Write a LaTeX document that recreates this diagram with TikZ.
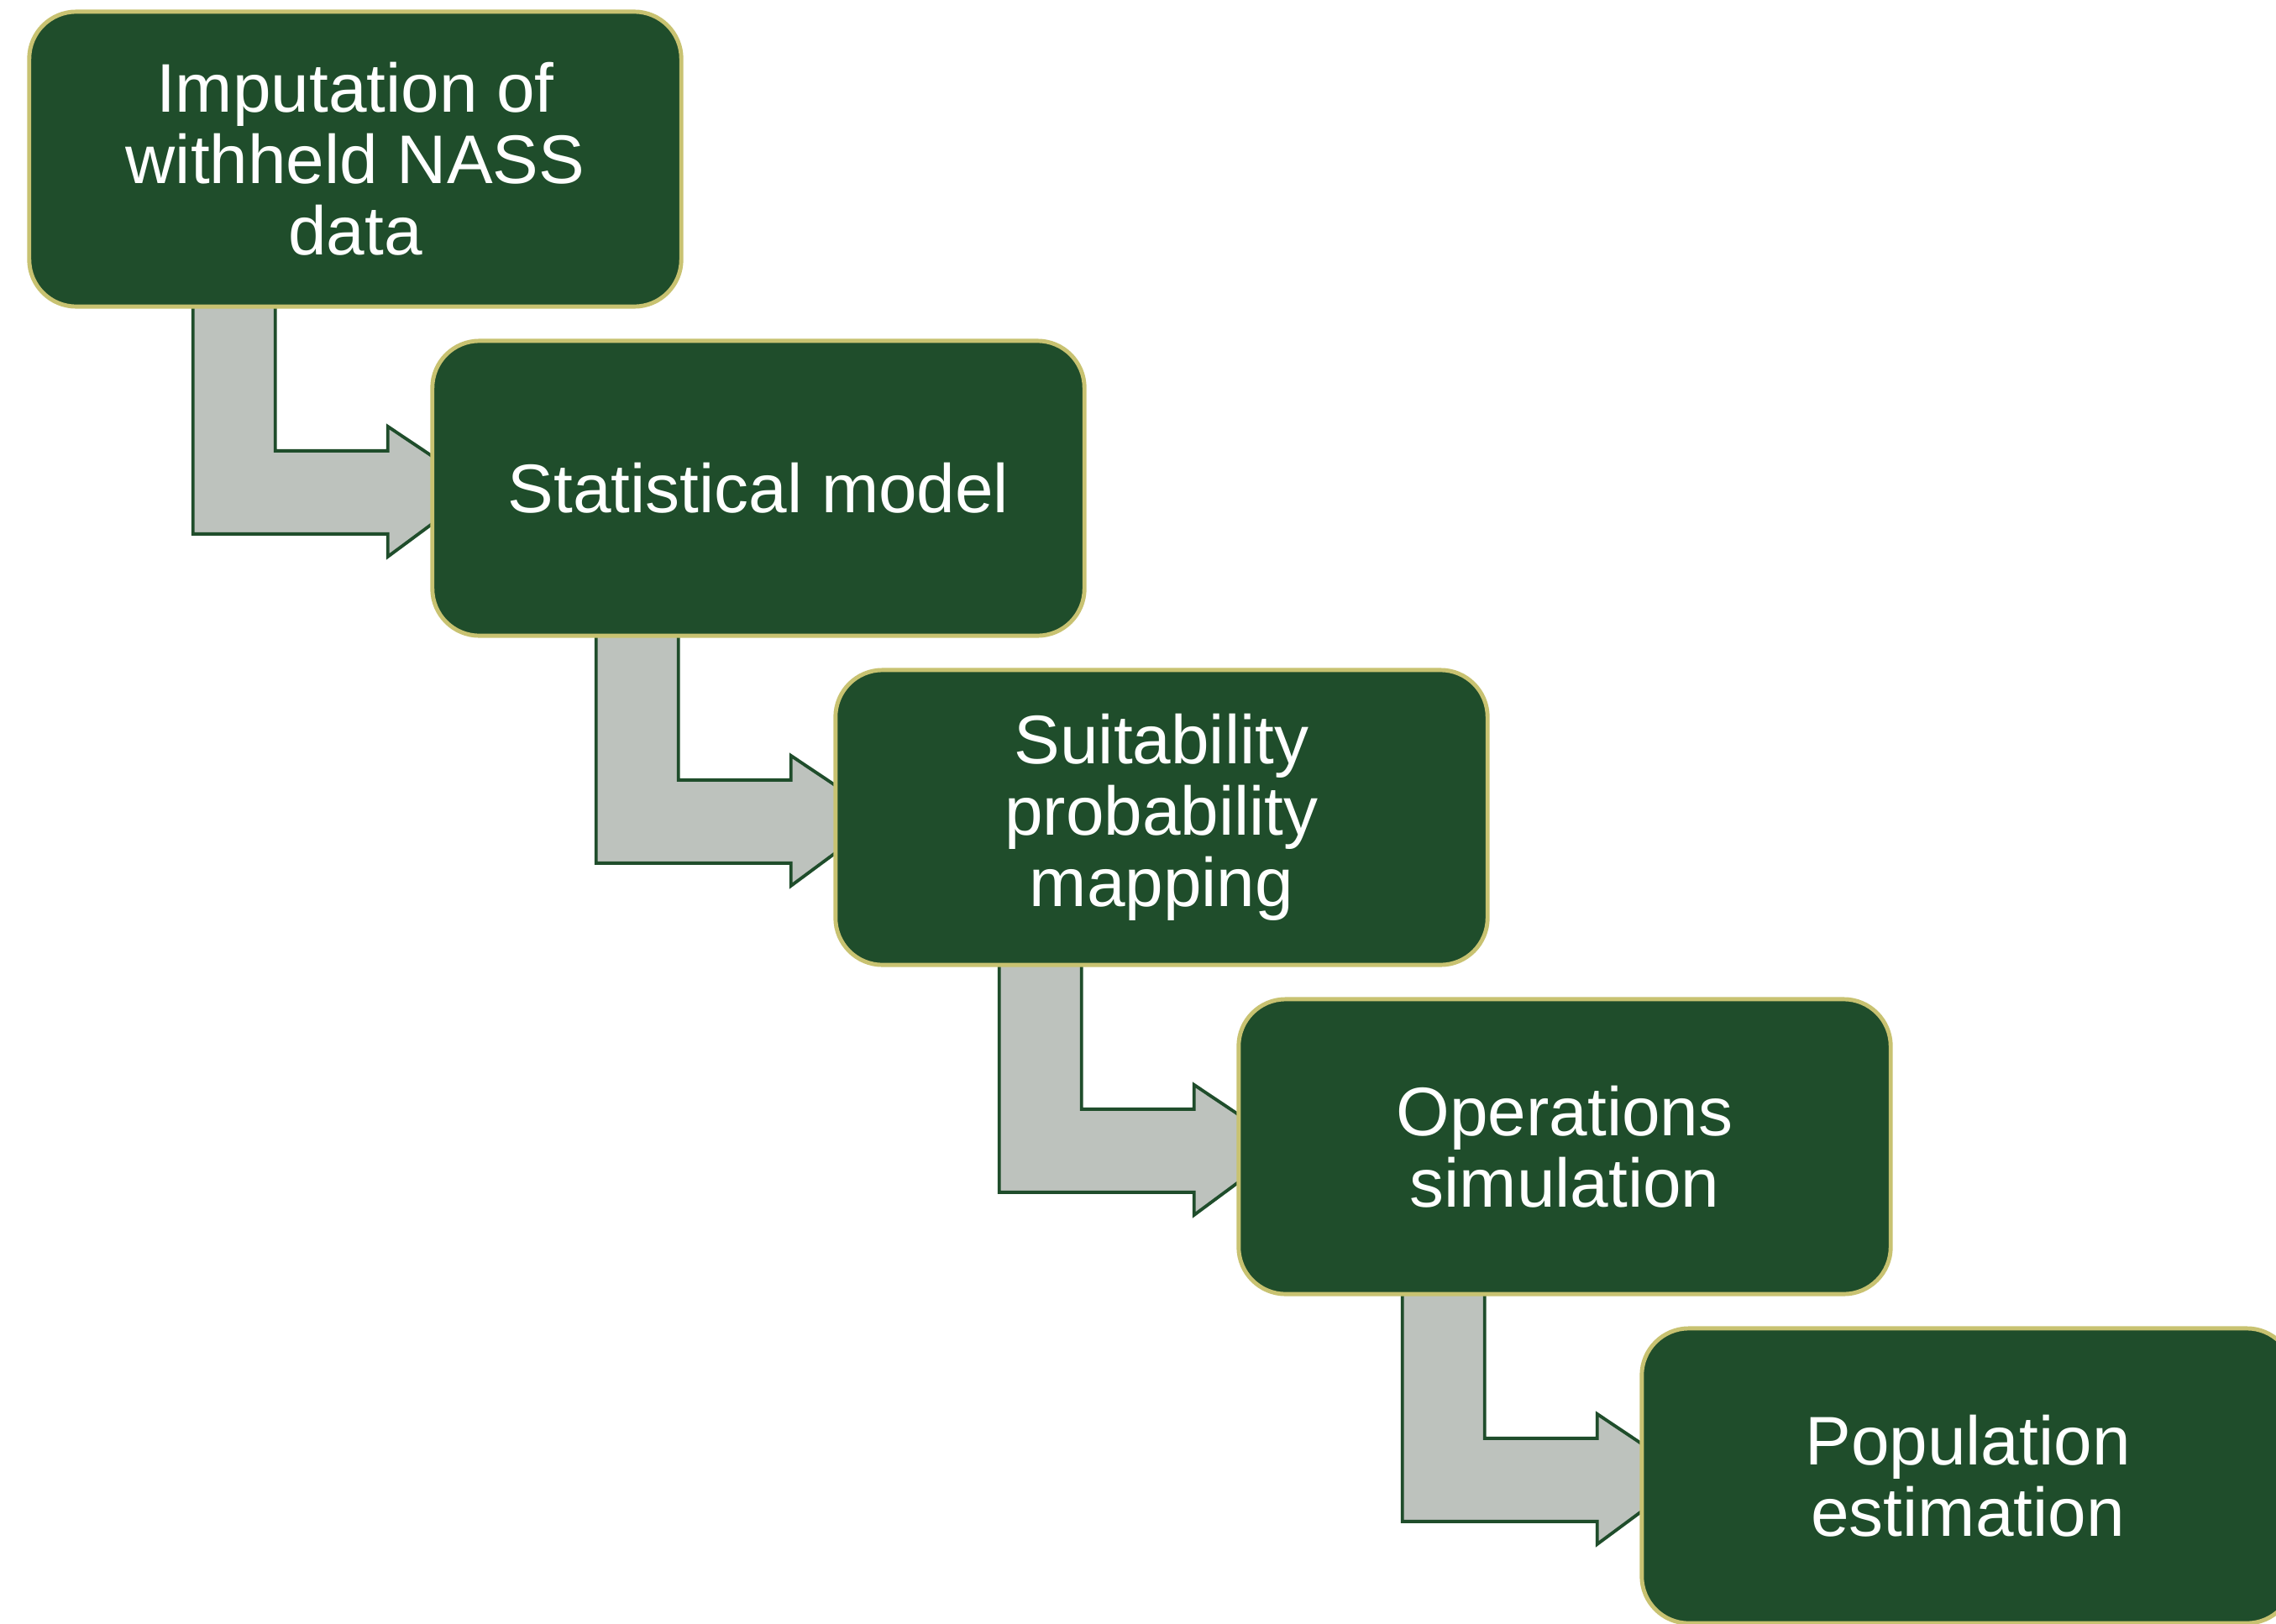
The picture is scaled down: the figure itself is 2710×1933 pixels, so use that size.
\documentclass[tikz,border=0pt]{standalone}
\usepackage{fontspec}
\setmainfont{Liberation Sans}
\usetikzlibrary{calc,backgrounds}
\definecolor{boxgreen}{HTML}{1F4D2B}
\definecolor{boxrim}{HTML}{C8C271}
\definecolor{arrowgray}{HTML}{BDC2BD}
\tikzset{
  stepbox/.style={draw=boxrim, line width=1.4pt, fill=boxgreen, rounded corners=5.6mm,
    minimum width=7.76cm, minimum height=3.51cm, inner sep=0pt, outer sep=0pt,
    align=center, text=white, font=\fontsize{23.3}{24.2}\selectfont},
  flowarrow/.style={draw=boxgreen, line width=1.1pt, fill=arrowgray, line join=miter}
}
\begin{document}
\begin{tikzpicture}[x=0.01cm,y=-0.01cm]
\useasboundingbox (0,0) rectangle (2710,1933);
\clip (0,0) rectangle (2710,1933);
\node[stepbox] (b1) at (423,189.5) {Imputation of\\withheld NASS\\data};
\node[stepbox] (b2) at (903,581.5) {Statistical model};
\node[stepbox] (b3) at (1383,973.5) {Suitability\\probability\\mapping};
\node[stepbox] (b4) at (1863,1365.5) {Operations\\simulation};
\node[stepbox] (b5) at (2343,1757.5) {Population\\estimation};
\begin{scope}[on background layer]
\foreach \a/\b in {b1/b2,b2/b3,b3/b4,b4/b5}{
  \draw[flowarrow] ($(\a.north west)+(195,340)$) -- ($(\a.north west)+(195,622)$)
    -- ($(\a.north west)+(427,622)$) -- ($(\a.north west)+(427,649)$)
    -- ($(\b.west)+(57,0)$) -- ($(\a.north west)+(427,494)$)
    -- ($(\a.north west)+(427,523)$) -- ($(\a.north west)+(293,523)$)
    -- ($(\a.north west)+(293,340)$) -- cycle;
}
\end{scope}
\end{tikzpicture}
\end{document}
